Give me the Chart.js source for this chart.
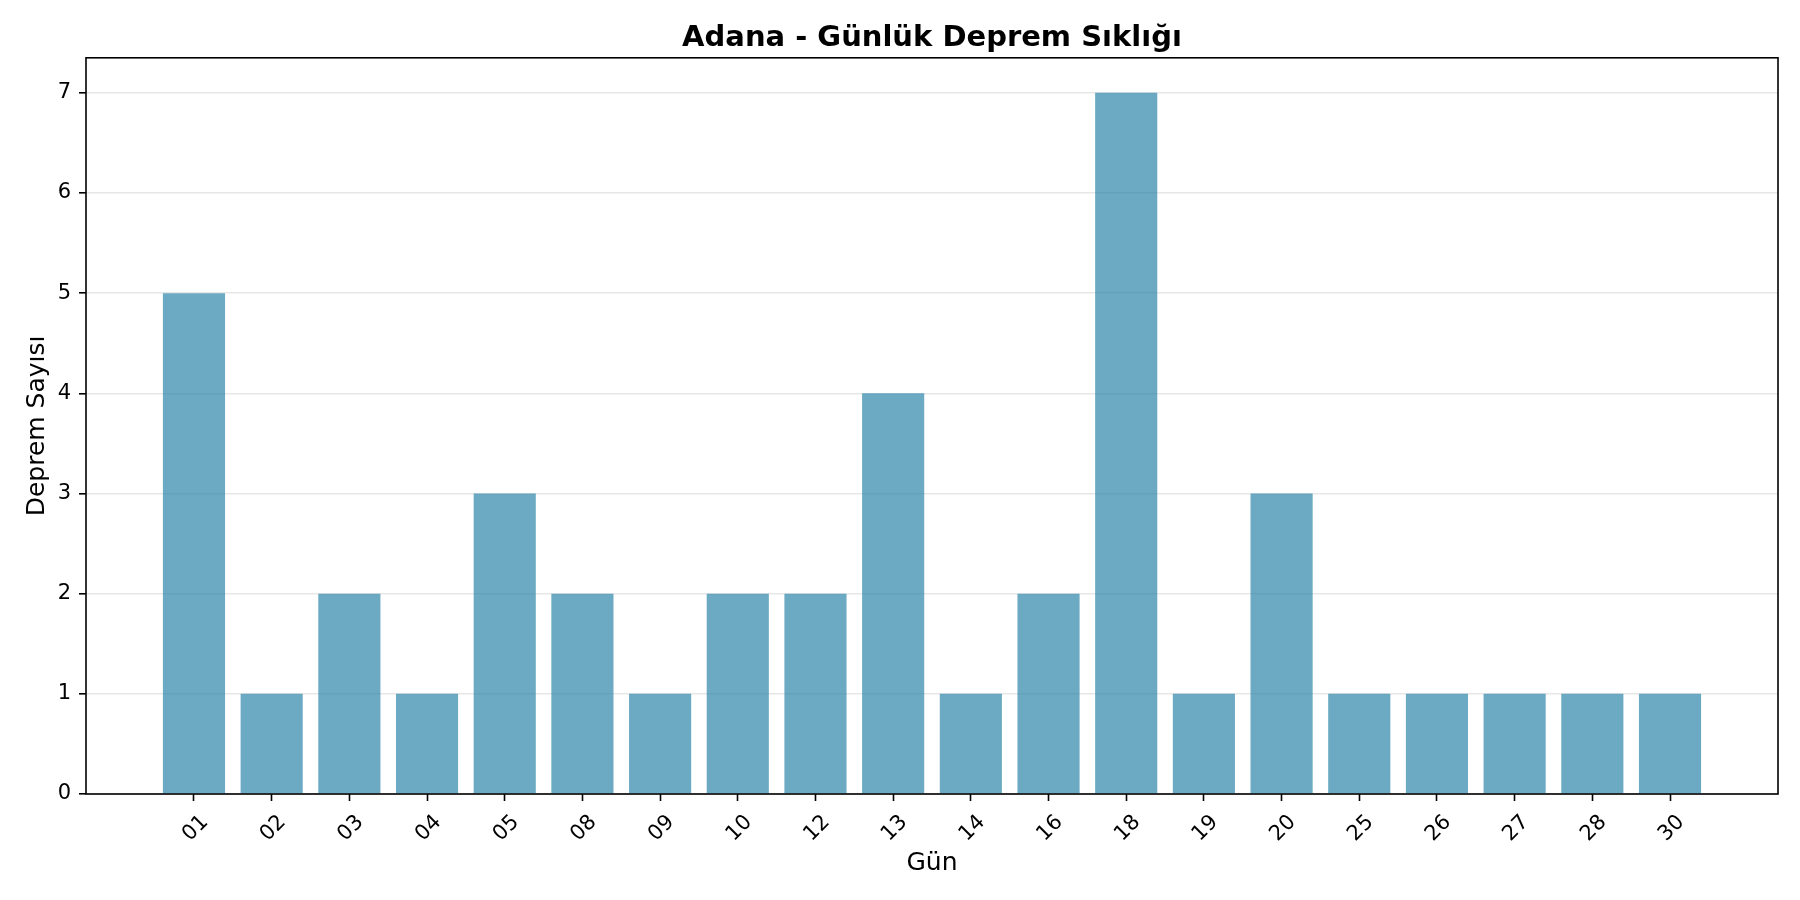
<!DOCTYPE html>
<html>
<head>
<meta charset="utf-8">
<script src="https://cdn.jsdelivr.net/npm/chart.js@4"></script>
<style>
  body { margin: 0; background: white; }
  #contenedor { width: 1800px; height: 900px; }
</style>
</head>
<body>
<div id="contenedor"><canvas id="myChart"></canvas></div>
<script>
// Datos
const gunler = ["01", "02", "03", "04", "05", "08", "09", "10", "12", "13", "14", "16", "18", "19", "20", "25", "26", "27", "28", "30"]
const depremSayisi = [5, 1, 2, 1, 3, 2, 1, 2, 2, 4, 1, 2, 7, 1, 3, 1, 1, 1, 1, 1]
const yTicks = [0, 1, 2, 3, 4, 5, 6, 7]

const fuente = "'DejaVu Sans', sans-serif"

// marco negro alrededor del area (como matplotlib)
const marco = {
    id: "marco",
    afterDatasetsDraw(chart) {
        const { ctx, chartArea } = chart
        ctx.save()
        ctx.strokeStyle = "#000"
        ctx.lineWidth = 1.6
        ctx.strokeRect(chartArea.left, chartArea.top, chartArea.right - chartArea.left, chartArea.bottom - chartArea.top)
        ctx.restore()
    }
}

const data = {
    datasets: [
        {
            label: "Deprem Sayısı",
            data: depremSayisi.map((v, i) => ({ x: i, y: v })),
            backgroundColor: "rgba(46, 134, 171, 0.7)",
            borderWidth: 0,
            categoryPercentage: 0.8,
            barPercentage: 1,
        },
    ],
}

const config = {
    type: "bar",
    data,
    options: {
        responsive: true,
        maintainAspectRatio: false,
        devicePixelRatio: 1,
        animation: false,
        layout: { padding: { left: 0, right: 22, top: 0, bottom: 0 } },
        plugins: {
            legend: { display: false },
            tooltip: { enabled: false },
            title: {
                display: true,
                fullSize: false,
                text: "Adana - Günlük Deprem Sıklığı",
                color: "#000",
                font: { family: fuente, size: 29, weight: "bold", lineHeight: 1.2 },
                padding: { top: 21, bottom: 2 },
            },
        },
        scales: {
            x: {
                type: "linear",
                min: -1.39,
                max: 20.39,
                offset: false,
                afterBuildTicks: (scale) => {
                    scale.ticks = gunler.map((_, i) => ({ value: i }))
                },
                afterFit: (scale) => { scale.height = 106 },
                ticks: {
                    autoSkip: false,
                    maxRotation: 45,
                    minRotation: 45,
                    labelOffset: 11,
                    padding: 9,
                    color: "#000",
                    font: { family: fuente, size: 21 },
                    callback: (v) => gunler[v],
                },
                grid: {
                    offset: false,
                    drawOnChartArea: false,
                    drawTicks: true,
                    tickLength: 7,
                    tickColor: "#000",
                    tickWidth: 1.6,
                },
                border: { display: false },
                title: {
                    display: true,
                    text: "Gün",
                    color: "#000",
                    font: { family: fuente, size: 25 },
                    padding: { top: 0, bottom: 22 },
                },
            },
            y: {
                min: 0,
                max: 7.35,
                afterBuildTicks: (scale) => {
                    scale.ticks = yTicks.map((v) => ({ value: v }))
                },
                afterFit: (scale) => { scale.width = 86 },
                ticks: {
                    padding: 8,
                    color: "#000",
                    font: { family: fuente, size: 21 },
                },
                grid: {
                    color: "rgba(176, 176, 176, 0.3)",
                    lineWidth: 1.6,
                    drawTicks: true,
                    tickLength: 7,
                    tickColor: "#000",
                    tickWidth: 1.6,
                },
                border: { display: false },
                title: {
                    display: true,
                    text: "Deprem Sayısı",
                    color: "#000",
                    font: { family: fuente, size: 25 },
                    padding: { top: 22, bottom: 0 },
                },
            },
        },
    },
    plugins: [marco],
}

const myChartElement = document.getElementById("myChart")
window.myChartInstance = new Chart(myChartElement, config)
</script>
</body>
</html>
